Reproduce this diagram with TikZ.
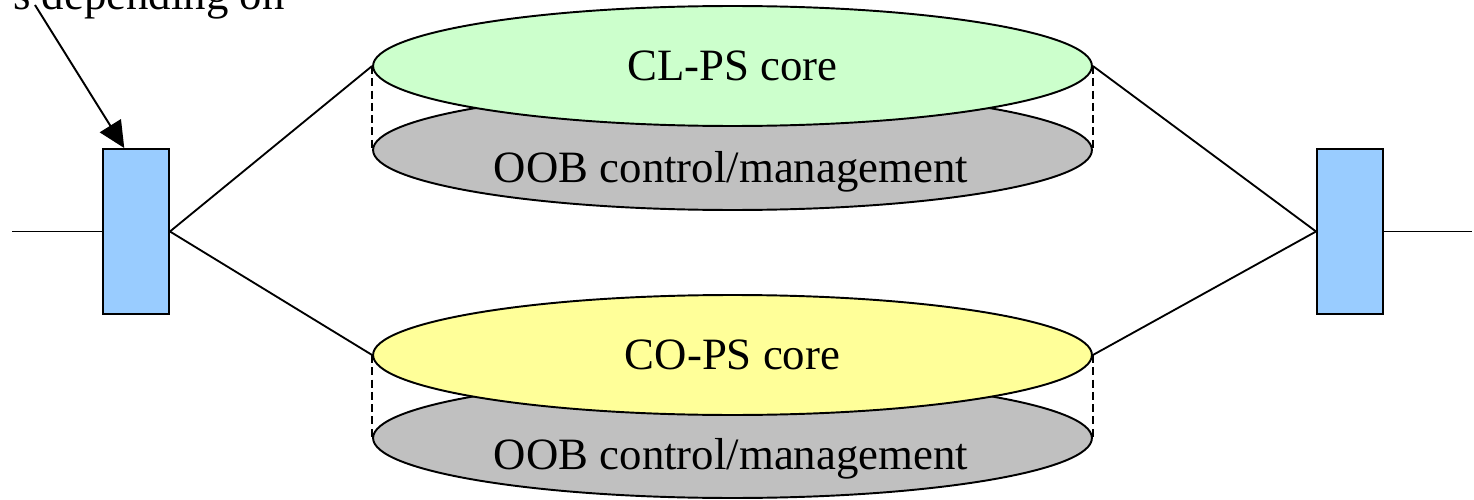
\documentclass[tikz,border=0pt]{standalone}
\usepackage{fontspec}
\setmainfont{Liberation Serif}
\usetikzlibrary{shapes.geometric,arrows.meta}

\definecolor{boxblue}{HTML}{99CCFF}
\definecolor{clgreen}{HTML}{CCFFCC}
\definecolor{coyellow}{HTML}{FFFF99}
\definecolor{oobgray}{HTML}{C0C0C0}

\tikzset{
  edgebox/.style={draw, line width=1.1pt, fill=boxblue, minimum width=1.32cm, minimum height=3.3cm, inner sep=0pt},
  disc/.style={ellipse, draw, line width=1.1pt, minimum width=14.38cm, minimum height=2.4cm, inner sep=0pt},
  link/.style={line width=1.05pt},
  side/.style={line width=1.4pt, dash pattern=on 4.5pt off 2.5pt}
}

\begin{document}
\begin{tikzpicture}[x=0.02cm, y=-0.02cm, font=\fontsize{25.5}{30}\selectfont]

        \useasboundingbox (0,0) rectangle (1474,500);

        % Edge boxes
        \node[edgebox] (lbox) at (136,231.5) {};
        \node[edgebox] (rbox) at (1350,231.5) {};

        \coordinate (lin) at (12,231.5);
        \coordinate (rout) at (1472,231.5);
        \draw[link] (lin) -- (lbox.west);
        \draw[link] (rbox.east) -- (rout);

        % CL-PS cylinder
        \node[disc, fill=oobgray] (cloob) at (732.5,150) {};
        \node[disc, fill=clgreen] (clps) at (732.5,66) {CL-PS core};
        \node (cloobtext) at (731,172) {OOB control/management};
        \draw[side] (clps.west) -- (cloob.west);
        \draw[side] (clps.east) -- (cloob.east);

        % CO-PS cylinder
        \node[disc, fill=oobgray] (cooob) at (732.5,438) {};
        \node[disc, fill=coyellow] (cops) at (732.5,355) {CO-PS core};
        \node (cooobtext) at (731,459) {OOB control/management};
        \draw[side] (cops.west) -- (cooob.west);
        \draw[side] (cops.east) -- (cooob.east);

        % Links between boxes and cores
        \draw[link] (lbox.east) -- (clps.west);
        \draw[link] (lbox.east) -- (cops.west);
        \draw[link] (rbox.west) -- (clps.east);
        \draw[link] (rbox.west) -- (cops.east);

        % Note
        \node[anchor=base west, inner sep=0pt] (note) at (13,10) {s depending on};
        \coordinate (notetail) at (35,5);
        \draw[line width=1.1pt, -{Triangle[length=15pt, width=14pt]}] (notetail) -- (lbox.98);
    \end{tikzpicture}
\end{document}
